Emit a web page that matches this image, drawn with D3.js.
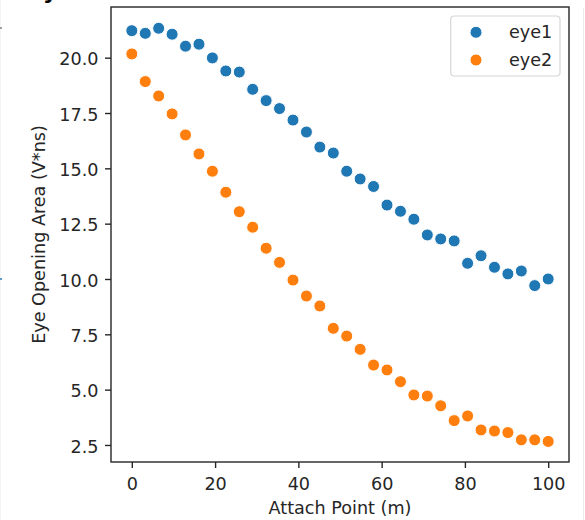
<!DOCTYPE html>
<html>
<head>
<meta charset="utf-8">
<script src="https://cdn.jsdelivr.net/npm/d3@7"></script>
<style>
  html, body { margin: 0; padding: 0; background: #fff; }
  svg { display: block; }
  text { font-family: "DejaVu Sans", sans-serif; fill: #262626; }
</style>
</head>
<body>
<svg id="chart" width="585" height="520"></svg>
<script>
// ---- data ----
const attachPoints = [0, 3.23, 6.45, 9.68, 12.9, 16.13, 19.35, 22.58, 25.81, 29.03,
  32.26, 35.48, 38.71, 41.94, 45.16, 48.39, 51.61, 54.84, 58.06, 61.29, 64.52,
  67.74, 70.97, 74.19, 77.42, 80.65, 83.87, 87.1, 90.32, 93.55, 96.77, 100];
const eye1 = [21.22, 21.10, 21.33, 21.06, 20.52, 20.61, 19.99, 19.40, 19.35, 18.57,
  18.06, 17.70, 17.18, 16.64, 15.96, 15.69, 14.87, 14.52, 14.18, 13.34, 13.06,
  12.70, 11.99, 11.81, 11.72, 10.71, 11.05, 10.53, 10.23, 10.36, 9.70, 10.00];
const eye2 = [20.17, 18.92, 18.27, 17.46, 16.51, 15.65, 14.87, 13.92, 13.04, 12.34,
  11.39, 10.75, 9.95, 9.23, 8.78, 7.77, 7.42, 6.82, 6.11, 5.89, 5.36,
  4.76, 4.71, 4.27, 3.60, 3.81, 3.18, 3.13, 3.06, 2.73, 2.73, 2.66];
const seriesNames = ["eye1", "eye2"];
const seriesColors = ["#1f77b4", "#ff7f0e"];
const xTicks = [0, 20, 40, 60, 80, 100];
const yTicks = [2.5, 5.0, 7.5, 10.0, 12.5, 15.0, 17.5, 20.0];
const xLabel = "Attach Point (m)";
const yLabel = "Eye Opening Area (V*ns)";

// ---- layout ----
const svg = d3.select("#chart");
const L = 111, R = 569, T = 7, B = 462;
const FS = 17.6;
const DOT_R = 6.0;

const x = d3.scaleLinear().domain([-5, 105]).range([L, R]);
const y = d3.scaleLinear().domain([1.73, 22.29]).range([B, T]);

// faint artifacts at the edges
svg.append("line").attr("x1", 583.5).attr("x2", 583.5).attr("y1", 8).attr("y2", 520)
  .attr("stroke", "#ececec").attr("stroke-width", 1);
svg.append("line").attr("x1", 0.5).attr("x2", 0.5).attr("y1", 0).attr("y2", 520)
  .attr("stroke", "#f4f4f4").attr("stroke-width", 1);
svg.append("rect").attr("x", 0).attr("y", 27.5).attr("width", 2).attr("height", 1).attr("fill", "#444");
svg.append("rect").attr("x", 0).attr("y", 278).attr("width", 2).attr("height", 2).attr("fill", "#5b9bd0");
svg.append("text").attr("x", 43).attr("y", -1).attr("font-size", 22).attr("font-weight", "bold")
  .style("fill", "#000").text("y");

// axes
const xAxis = svg.append("g").attr("transform", `translate(0,${B})`)
  .call(d3.axisBottom(x).tickValues(xTicks).tickSize(6).tickFormat(d3.format("d")));
xAxis.selectAll("text").attr("y", 27.5).attr("dy", 0).attr("font-size", FS)
  .attr("font-family", "DejaVu Sans").style("fill", "#262626");

const yAxis = svg.append("g").attr("transform", `translate(${L},0)`)
  .call(d3.axisLeft(y).tickValues(yTicks).tickSize(6).tickPadding(6.5).tickFormat(d3.format(".1f")));
yAxis.selectAll("text").attr("dy", "0.4em").attr("font-size", FS)
  .attr("font-family", "DejaVu Sans").style("fill", "#262626");

[xAxis, yAxis].forEach(g => {
  g.select(".domain").remove();
  g.selectAll(".tick line").attr("stroke", "#262626").attr("stroke-width", 1.4);
});

// frame
svg.append("rect").attr("x", L).attr("y", T).attr("width", R - L).attr("height", B - T)
  .attr("fill", "none").attr("stroke", "#262626").attr("stroke-width", 1.4);

// points
const series = [eye1, eye2];
series.forEach((vals, si) => {
  svg.append("g").selectAll("circle")
    .data(vals.map((v, i) => [attachPoints[i], v]))
    .join("circle")
    .attr("cx", d => x(d[0]))
    .attr("cy", d => y(d[1]))
    .attr("r", DOT_R)
    .attr("fill", seriesColors[si])
    .attr("stroke", "#ffffff")
    .attr("stroke-width", 1);
});

// labels
svg.append("text").attr("x", (L + R) / 2).attr("y", 514.4).attr("text-anchor", "middle")
  .attr("font-size", FS).text(xLabel);
svg.append("text").attr("transform", `translate(44.5,${(T + B) / 2}) rotate(-90)`)
  .attr("text-anchor", "middle").attr("font-size", FS).text(yLabel);

// legend
const lg = svg.append("g");
lg.append("rect").attr("x", 450.7).attr("y", 16).attr("width", 109.3).attr("height", 60)
  .attr("rx", 3.5).attr("fill", "#ffffff").attr("fill-opacity", 0.8)
  .attr("stroke", "#d6d6d6").attr("stroke-width", 1.2);
seriesNames.forEach((name, i) => {
  const cy = 32.3 + i * 27.7;
  lg.append("circle").attr("cx", 476).attr("cy", cy).attr("r", DOT_R)
    .attr("fill", seriesColors[i]).attr("stroke", "#fff").attr("stroke-width", 1);
  lg.append("text").attr("x", 509).attr("y", cy + 6).attr("font-size", FS).text(name);
});
</script>
</body>
</html>
